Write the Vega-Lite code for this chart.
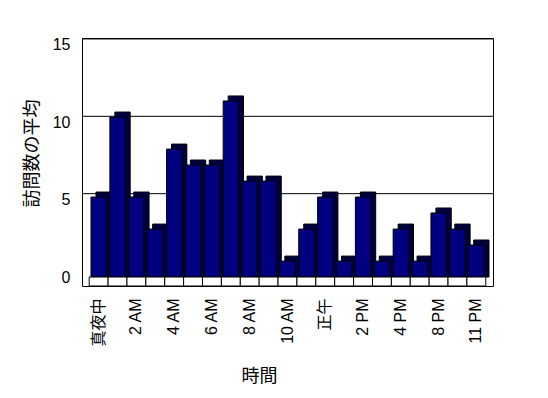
{
  "$schema": "https://vega.github.io/schema/vega-lite/v6.json",
  "autosize": "none",
  "width": 411,
  "height": 248,
  "padding": {"left": 82, "top": 38, "right": 55, "bottom": 112},
  "background": "white",
  "config": {
    "view": {"stroke": "black", "strokeWidth": 1},
    "font": "Liberation Sans, Noto Sans CJK JP"
  },
  "datasets": {
    "visits": [
      {"hour": "真夜中", "avg": 5.17},
      {"hour": "1 AM", "avg": 10.34},
      {"hour": "2 AM", "avg": 5.17},
      {"hour": "3 AM", "avg": 3.1},
      {"hour": "4 AM", "avg": 8.27},
      {"hour": "5 AM", "avg": 7.24},
      {"hour": "6 AM", "avg": 7.24},
      {"hour": "7 AM", "avg": 11.38},
      {"hour": "8 AM", "avg": 6.2},
      {"hour": "9 AM", "avg": 6.2},
      {"hour": "10 AM", "avg": 1.03},
      {"hour": "11 AM", "avg": 3.1},
      {"hour": "正午", "avg": 5.17},
      {"hour": "1 PM", "avg": 1.03},
      {"hour": "2 PM", "avg": 5.17},
      {"hour": "3 PM", "avg": 1.03},
      {"hour": "4 PM", "avg": 3.1},
      {"hour": "6 PM", "avg": 1.03},
      {"hour": "8 PM", "avg": 4.14},
      {"hour": "10 PM", "avg": 3.1},
      {"hour": "11 PM", "avg": 2.07}
    ],
    "grid": [{"avg": 5}, {"avg": 10}, {"avg": 15}]
  },
  "layer": [
    {
      "data": {"name": "grid"},
      "mark": {"type": "rule", "color": "black", "strokeWidth": 1, "xOffset": 16, "yOffset": -6, "clip": true},
      "encoding": {
        "y": {
          "field": "avg", "type": "quantitative",
          "scale": {"domain": [-0.58, 15.45], "nice": false, "zero": false},
          "axis": {
            "title": "訪問数の平均",
            "values": [0, 5, 10, 15],
            "grid": false,
            "ticks": false,
            "domain": false,
            "labelFontSize": 16,
            "labelColor": "black",
            "labelPadding": 12,
            "titleFontSize": 18,
            "titleFontWeight": "normal",
            "titleColor": "black",
            "titleAngle": -90,
            "titleX": -50,
            "titleY": 115,
            "titleBaseline": "middle",
            "titleAlign": "center"
          }
        }
      }
    },
    {
      "data": {"name": "visits"},
      "mark": {"type": "bar", "color": "#000040", "stroke": "black", "strokeWidth": 1, "xOffset": 5, "yOffset": -5},
      "encoding": {
        "x": {
          "field": "hour", "type": "nominal", "sort": null,
          "scale": {"paddingInner": 0.19, "paddingOuter": 0.476},
          "axis": {
            "title": "時間",
            "labelAngle": -90,
            "labelFontSize": 16,
            "labelColor": "black",
            "labelPadding": 12,
            "labelExpr": "indexof(['真夜中','2 AM','4 AM','6 AM','8 AM','10 AM','正午','2 PM','4 PM','8 PM','11 PM'], datum.value) >= 0 ? datum.value : ''",
            "ticks": false,
            "domain": false,
            "titleFontSize": 18,
            "titleFontWeight": "normal",
            "titleColor": "black",
            "titleX": 177,
            "titleY": 90,
            "titleBaseline": "middle",
            "titleAlign": "center"
          }
        },
        "y": {"field": "avg", "type": "quantitative"},
        "y2": {"datum": 0}
      }
    },
    {
      "data": {"name": "visits"},
      "mark": {"type": "bar", "color": "#000080", "stroke": "black", "strokeWidth": 1},
      "encoding": {
        "x": {"field": "hour", "type": "nominal", "sort": null},
        "y": {"field": "avg", "type": "quantitative"},
        "y2": {"datum": 0}
      }
    },
    {
      "data": {"name": "visits"},
      "mark": {"type": "bar", "fill": "white", "stroke": "black", "strokeWidth": 1, "width": {"band": 1.235}},
      "encoding": {
        "x": {"field": "hour", "type": "nominal", "sort": null},
        "y": {"datum": 0},
        "y2": {"datum": -0.58}
      }
    }
  ]
}
